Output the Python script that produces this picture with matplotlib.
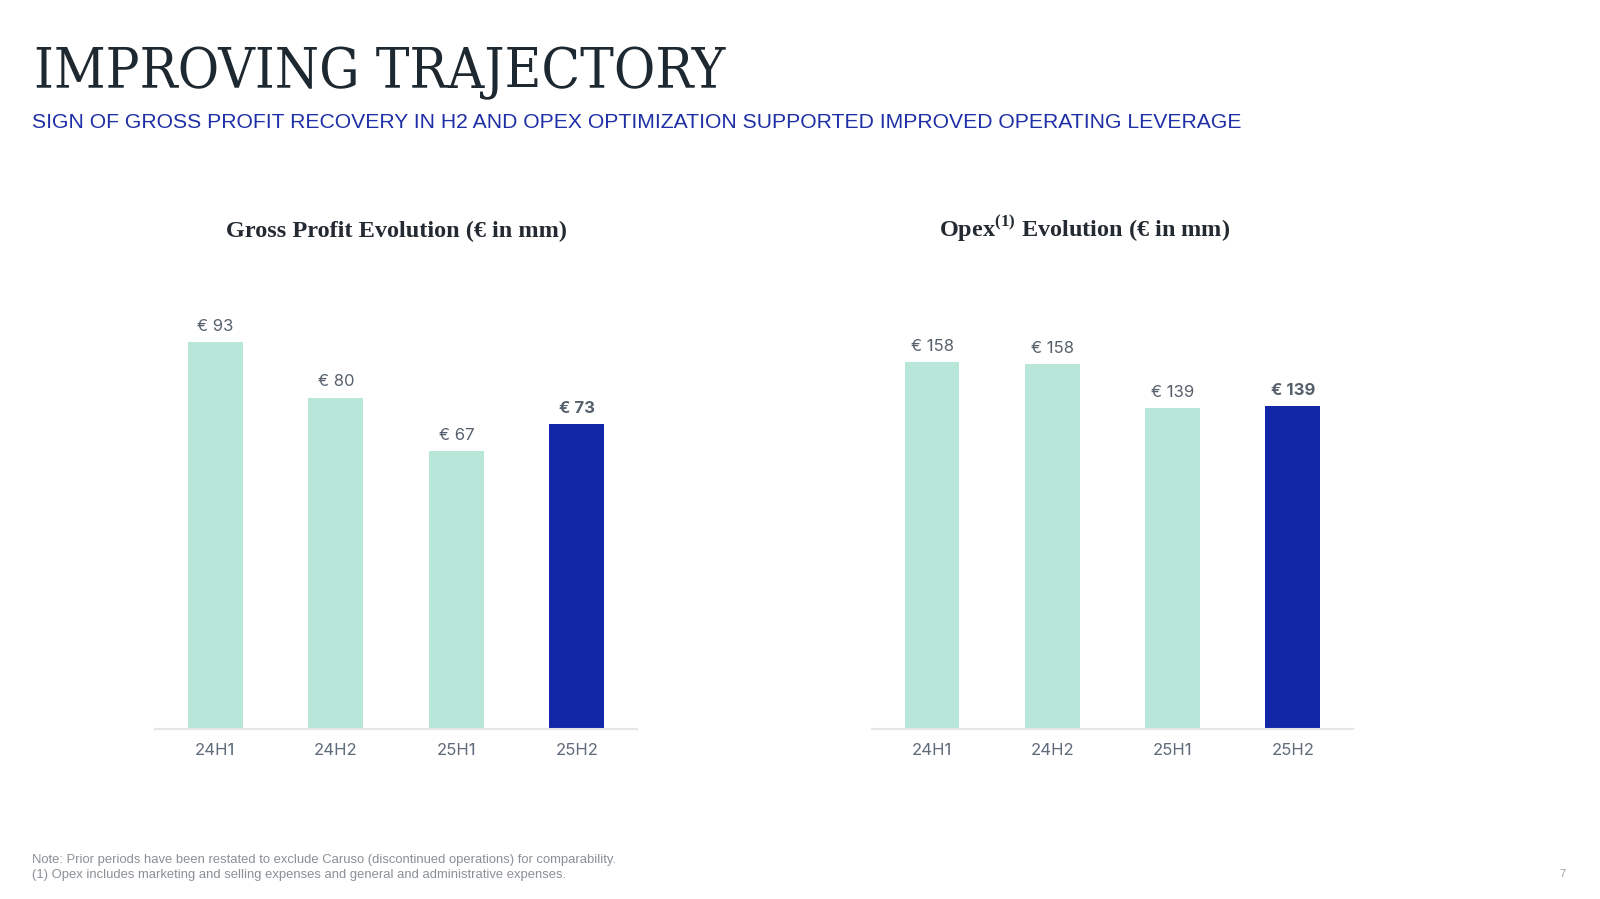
import matplotlib
matplotlib.use("Agg")
import matplotlib.pyplot as plt

# ---- data ----
periods = ["24H1", "24H2", "25H1", "25H2"]
gross_profit = [93.0, 79.7, 66.9, 73.4]
gross_labels = ["€ 93", "€ 80", "€ 67", "€ 73"]
opex = [158.5, 157.7, 138.7, 139.5]
opex_labels = ["€ 158", "€ 158", "€ 139", "€ 139"]

title = "IMPROVING TRAJECTORY"
subtitle = ("SIGN OF GROSS PROFIT RECOVERY IN H2 AND OPEX OPTIMIZATION "
            "SUPPORTED IMPROVED OPERATING LEVERAGE")
chart1_title = "Gross Profit Evolution (€ in mm)"
chart2_title = r"Opex$^{\mathbf{(1)}}$ Evolution (€ in mm)"
notes = ["Note: Prior periods have been restated to exclude Caruso (discontinued operations) for comparability.",
         "(1) Opex includes marketing and selling expenses and general and administrative expenses."]
page = "7"

LIGHT = "#b8e6d8"
DARK = "#1226a8"
LABEL_C = "#56606d"
TICK_C = "#5f6b7a"

plt.rcParams["mathtext.fontset"] = "custom"
plt.rcParams["mathtext.rm"] = "Liberation Serif"
plt.rcParams["mathtext.bf"] = "Liberation Serif:bold"

fig = plt.figure(figsize=(16, 8.99), dpi=100)
fig.patch.set_facecolor("white")

fig.text(0.021, 0.902, title, fontsize=40.5, family="DejaVu Serif",
         fontstretch="condensed", color="#1e2830", va="baseline", ha="left")
fig.text(0.020, 1 - 128 / 899, subtitle, fontsize=15.2, family="Liberation Sans",
         color="#1f30a6", va="baseline", ha="left")


def draw(ax, values, labels, ymax, ttl, ttl_x):
    colors = [LIGHT] * (len(values) - 1) + [DARK]
    x = range(len(values))
    bars = ax.bar(x, values, width=0.455, color=colors, zorder=2)
    for i, (b, lab) in enumerate(zip(bars, labels)):
        last = i == len(values) - 1
        ax.annotate(lab, (b.get_x() + b.get_width() / 2, b.get_height()),
                    xytext=(0, 6), textcoords="offset points",
                    ha="center", va="bottom", fontsize=12,
                    family="Inter", color=LABEL_C,
                    fontweight="bold" if last else "normal")
    ax.set_xlim(-0.5, len(values) - 0.5)
    ax.set_ylim(0, ymax)
    ax.set_xticks(list(x))
    ax.set_xticklabels(periods, fontsize=12, family="Inter", color=TICK_C)
    ax.tick_params(axis="x", length=0, pad=10)
    ax.set_yticks([])
    for s in ["top", "right", "left"]:
        ax.spines[s].set_visible(False)
    ax.spines["bottom"].set_color("#e3e7ea")
    ax.spines["bottom"].set_linewidth(1.5)
    fig.text(ttl_x, 1 - 237 / 899, ttl, fontsize=17.5,
             family="Liberation Serif", fontweight="bold", color="#232a31",
             ha="center", va="baseline")


ax1 = fig.add_axes([0.0969, 0.1891, 0.3013, 0.4772])
draw(ax1, gross_profit, gross_labels, 103.2, chart1_title, 396 / 1600)
ax2 = fig.add_axes([0.545, 0.1891, 0.3006, 0.4772])
draw(ax2, opex, opex_labels, 185.3, chart2_title, 1085 / 1600)

fig.text(0.020, 1 - 860 / 899, notes[0], fontsize=9.4, family="Liberation Sans",
         color="#8a9096", va="center", ha="left")
fig.text(0.020, 1 - 875 / 899, notes[1], fontsize=9.4, family="Liberation Sans",
         color="#8a9096", va="center", ha="left")
fig.text(1562 / 1600, 1 - 874 / 899, page, fontsize=8, family="Liberation Sans",
         color="#9a9fa4", va="center", ha="center")

fig.savefig("out.png", dpi=100, facecolor="white")
